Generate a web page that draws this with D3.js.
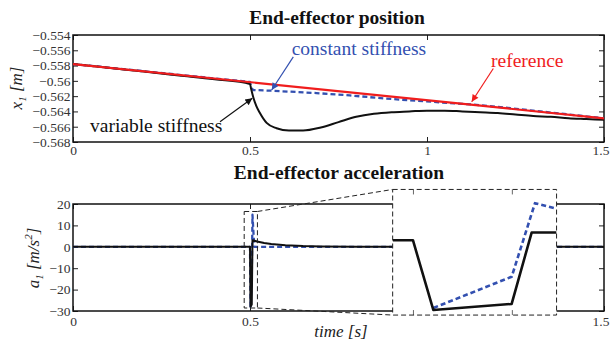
<!DOCTYPE html>
<html>
<head>
  <meta charset="utf-8">
  <title>End-effector position and acceleration</title>
  <script src="https://d3js.org/d3.v7.min.js"></script>
  <style>
    body { margin: 0; background: #fff; }
    text { font-family: "Liberation Serif", "Times New Roman", "DejaVu Serif", serif; }
  </style>
</head>
<body>
  <svg id="chart"></svg>

  <script>
    // time axis (shared)
    const timeTicks = [0, 0.5, 1, 1.5];
    const timeLabelsTop = ["0", "0.5", "1", "1.5"];
    const timeLabelsBottom = ["0", "0.5", "", "1.5"];

    // position panel
    const posTicks = [-0.554, -0.556, -0.558, -0.56, -0.562, -0.564, -0.566, -0.568];
    const posLabels = ["\u22120.554", "\u22120.556", "\u22120.558", "\u22120.56", "\u22120.562", "\u22120.564", "\u22120.566", "\u22120.568"];

    const refT = [0, 1.5];
    const refX = [-0.5578, -0.5649];

    const varT = [0, 0.1, 0.2, 0.3, 0.4, 0.5, 0.503, 0.509, 0.518, 0.528, 0.547, 0.575, 0.61, 0.65,
                  0.7, 0.75, 0.8, 0.85, 0.9, 0.95, 1.0, 1.05, 1.1, 1.15, 1.2, 1.25, 1.3, 1.35, 1.4, 1.45, 1.5];
    const varX = [-0.5578, -0.5583, -0.55879, -0.55929, -0.55979, -0.5604, -0.561, -0.5621, -0.5633, -0.5642,
                  -0.5655, -0.5662, -0.5665, -0.5665, -0.5661, -0.5654, -0.5647, -0.5643, -0.5641, -0.564,
                  -0.5639, -0.5639, -0.564, -0.5641, -0.5642, -0.5644, -0.5646, -0.5647, -0.5649, -0.565, -0.5651];

    const conT = [0, 0.5, 0.505, 0.51, 0.566, 0.688, 0.782, 0.877, 0.971, 1.065, 1.13, 1.2, 1.3, 1.4, 1.5];
    const conX = [-0.5578, -0.56015, -0.561, -0.5612, -0.5613, -0.5616, -0.5619, -0.5623, -0.5626, -0.5629,
                  -0.5631, -0.5634, -0.5639, -0.5644, -0.5649];

    // acceleration panel
    const accTicks = [20, 10, 0, -10, -20, -30];
    const accLabels = ["20", "10", "0", "\u221210", "\u221220", "\u221230"];

    const varAccT = [0, 0.5, 0.5015, 0.505, 0.507, 0.52, 0.54, 0.56, 0.6, 0.65, 0.7, 0.8, 0.9, 1.5];
    const varAcc  = [0, 0, -28, -27, 3.1, 2.5, 1.8, 1.3, 0.75, 0.35, 0.15, 0.03, 0, 0];

    const conAccT = [0, 0.5, 0.5015, 0.505, 0.507, 0.512, 1.5];
    const conAcc  = [0, 0, -28, -14, 15, 0, 0];

    // zoom window and inset (in main acceleration axes units)
    const zoomT = [0.4836, 0.521];
    const zoomA = [-28.6, 16.5];
    const insetT = [0.903, 1.366];
    const insetA = [-31.9, 26.8];

    // inset data
    const insetDomain = [0.49795, 0.51452];
    const insetTicks = [0.5, 0.51];
    const insVarT = [0.49795, 0.5, 0.50206, 0.50998, 0.512, 0.51452];
    const insVar  = [3.07, 3.07, -29.5, -26.7, 6.66, 6.66];
    const insConT = [0.50206, 0.50998, 0.51234, 0.51452];
    const insCon  = [-28.6, -14, 20.4, 17.8];

    const black = "#111", red = "#f01d1d", blue = "#3350b0";

    const svg = d3.select("#chart").attr("width", 610).attr("height", 344);

    const x = d3.scaleLinear().domain([0, 1.5]).range([73, 604]);
    const yPos = d3.scaleLinear().domain([-0.568, -0.554]).range([142, 35]);
    const yAcc = d3.scaleLinear().domain([-30, 20]).range([311, 204]);

    // arrowhead markers
    const defs = svg.append("defs");
    [["arrBlack", black], ["arrRed", red], ["arrBlue", blue]].forEach(([id, c]) => {
      defs.append("marker")
        .attr("id", id)
        .attr("viewBox", "0 0 10 10")
        .attr("refX", 10).attr("refY", 5)
        .attr("markerWidth", 9).attr("markerHeight", 7)
        .attr("markerUnits", "userSpaceOnUse")
        .attr("orient", "auto")
        .append("path").attr("d", "M0,0 L10,5 L0,10 Z").attr("fill", c);
    });

    function panel(yScale, yTicks, yLabels, xLabels, xPad) {
      const g = svg.append("g");
      const [x0, x1] = x.range();
      const [yb, yt] = yScale.range();

      g.append("g").attr("class", "xaxis").attr("transform", `translate(0,${yb})`)
        .call(d3.axisBottom(x).tickValues(timeTicks).tickFormat((d, i) => xLabels[i])
          .tickSize(-5).tickSizeOuter(0).tickPadding(xPad));
      g.append("g").attr("transform", `translate(0,${yt})`)
        .call(d3.axisTop(x).tickValues(timeTicks).tickFormat("").tickSize(-5).tickSizeOuter(0));
      g.append("g").attr("transform", `translate(${x0},0)`)
        .call(d3.axisLeft(yScale).tickValues(yTicks).tickFormat((d, i) => yLabels[i])
          .tickSize(-5).tickSizeOuter(0).tickPadding(2.5));
      g.append("g").attr("transform", `translate(${x1},0)`)
        .call(d3.axisRight(yScale).tickValues(yTicks).tickFormat("").tickSize(-5).tickSizeOuter(0));

      g.selectAll(".domain").remove();
      g.selectAll(".tick line").attr("stroke", "#222").attr("stroke-width", 1);
      g.selectAll(".tick text").attr("font-size", 13.5).attr("fill", "#333");
      // last time label sits at the right edge of the page
      g.selectAll(".xaxis .tick text").filter(d => d === 1.5).attr("dx", -3.5);

      g.append("rect")
        .attr("x", x0).attr("y", yt).attr("width", x1 - x0).attr("height", yb - yt)
        .attr("fill", "none").attr("stroke", "#111").attr("stroke-width", 1.5);
      return g;
    }

    function series(g, xs, ys, xScale, yScale, color, width, dash, curve) {
      const pts = xs.map((t, i) => [t, ys[i]]);
      g.append("path")
        .attr("d", d3.line().curve(curve || d3.curveLinear).x(d => xScale(d[0])).y(d => yScale(d[1]))(pts))
        .attr("fill", "none")
        .attr("stroke", color)
        .attr("stroke-width", width)
        .attr("stroke-dasharray", dash || null)
        .attr("stroke-linejoin", "round");
    }

    // ---------- top: position ----------
    const posPanel = panel(yPos, posTicks, posLabels, timeLabelsTop, 3.5);
    series(posPanel, conT, conX, x, yPos, blue, 2.3, "5,3");
    series(posPanel, varT, varX, x, yPos, black, 2, null, d3.curveMonotoneX);
    series(posPanel, refT, refX, x, yPos, red, 2.2);

    svg.append("text").attr("x", 337).attr("y", 24).attr("text-anchor", "middle")
      .attr("font-size", 19.5).attr("font-weight", "bold").attr("fill", "#111")
      .text("End-effector position");

    // annotations: [label, color, marker, textT, textV, tailT, tailV, tipT, tipV]
    const notes = [
      ["constant stiffness", blue, "arrBlue", 0.6178, -0.55662, 0.6223, -0.55686, 0.5613, -0.5612],
      ["reference", red, "arrRed", 1.1808, -0.55815, 1.1873, -0.55838, 1.1263, -0.56273],
      ["variable stiffness", black, "arrBlack", 0.048, -0.56665, 0.4153, -0.56534, 0.5065, -0.56228]
    ];
    notes.forEach(n => {
      posPanel.append("text").attr("x", x(n[3])).attr("y", yPos(n[4]))
        .attr("font-size", 19.5).attr("fill", n[1]).text(n[0]);
      posPanel.append("line")
        .attr("x1", x(n[5])).attr("y1", yPos(n[6]))
        .attr("x2", x(n[7])).attr("y2", yPos(n[8]))
        .attr("stroke", n[1]).attr("stroke-width", 1.2)
        .attr("marker-end", `url(#${n[2]})`);
    });

    // y label top
    const yl1 = svg.append("text").attr("transform", "translate(22,88) rotate(-90)")
      .attr("text-anchor", "middle").attr("font-size", 17).attr("font-style", "italic").attr("fill", "#222");
    yl1.append("tspan").text("x");
    yl1.append("tspan").attr("font-size", 11).attr("dy", 4).text("1");
    yl1.append("tspan").attr("dy", -4).text(" [m]");

    // ---------- bottom: acceleration ----------
    const accPanel = panel(yAcc, accTicks, accLabels, timeLabelsBottom, 5);
    series(accPanel, conAccT, conAcc, x, yAcc, blue, 2.3, "5,3");
    series(accPanel, varAccT, varAcc, x, yAcc, black, 2);

    svg.append("text").attr("x", 339).attr("y", 179).attr("text-anchor", "middle")
      .attr("font-size", 19.5).attr("font-weight", "bold").attr("fill", "#111")
      .text("End-effector acceleration");

    const yl2 = svg.append("text").attr("transform", "translate(39,258) rotate(-90)")
      .attr("text-anchor", "middle").attr("font-size", 17).attr("font-style", "italic").attr("fill", "#222");
    yl2.append("tspan").text("a");
    yl2.append("tspan").attr("font-size", 11).attr("dy", 4).text("1");
    yl2.append("tspan").attr("dy", -4).text(" [m/s");
    yl2.append("tspan").attr("font-size", 11).attr("dy", -7).text("2");
    yl2.append("tspan").attr("dy", 7).text("]");

    svg.append("text").attr("x", 341).attr("y", 337).attr("text-anchor", "middle")
      .attr("font-size", 17).attr("font-style", "italic").attr("fill", "#222")
      .text("time [s]");

    // zoom window + connectors
    const dashStyle = s => s.attr("fill", "none").attr("stroke", "#222").attr("stroke-width", 1).attr("stroke-dasharray", "5,3");
    svg.append("rect")
      .attr("x", x(zoomT[0])).attr("y", yAcc(zoomA[1]))
      .attr("width", x(zoomT[1]) - x(zoomT[0])).attr("height", yAcc(zoomA[0]) - yAcc(zoomA[1]))
      .call(dashStyle);
    [[zoomA[1], insetA[1]], [zoomA[0], insetA[0]]].forEach(([a0, a1]) => {
      svg.append("line")
        .attr("x1", x(zoomT[1])).attr("y1", yAcc(a0))
        .attr("x2", x(insetT[0])).attr("y2", yAcc(a1))
        .call(dashStyle);
    });

    // inset
    const ix0 = x(insetT[0]), ix1 = x(insetT[1]);
    const iyTop = yAcc(insetA[1]), iyBot = yAcc(insetA[0]);
    const xi = d3.scaleLinear().domain(insetDomain).range([ix0, ix1]);
    const yi = d3.scaleLinear().domain(insetA).range([iyBot, iyTop]);

    const ins = svg.append("g");
    ins.append("rect").attr("x", ix0).attr("y", iyTop).attr("width", ix1 - ix0).attr("height", iyBot - iyTop)
      .attr("fill", "#fff");
    defs.append("clipPath").attr("id", "insetClip").append("rect")
      .attr("x", ix0).attr("y", iyTop).attr("width", ix1 - ix0).attr("height", iyBot - iyTop);
    const insLines = ins.append("g").attr("clip-path", "url(#insetClip)");
    series(insLines, insConT, insCon, xi, yi, blue, 2.6, "5,3");
    series(insLines, insVarT, insVar, xi, yi, black, 2.6);

    ins.append("g").attr("transform", `translate(0,${iyBot})`)
      .call(d3.axisBottom(xi).tickValues(insetTicks).tickFormat("").tickSize(-5).tickSizeOuter(0));
    ins.append("g").attr("transform", `translate(0,${iyTop})`)
      .call(d3.axisTop(xi).tickValues(insetTicks).tickFormat("").tickSize(-5).tickSizeOuter(0));
    ins.selectAll(".domain").remove();
    ins.selectAll(".tick line").attr("stroke", "#666").attr("stroke-width", 1);

    ins.append("rect").attr("x", ix0).attr("y", iyTop).attr("width", ix1 - ix0).attr("height", iyBot - iyTop)
      .call(dashStyle);
  </script>
</body>
</html>
